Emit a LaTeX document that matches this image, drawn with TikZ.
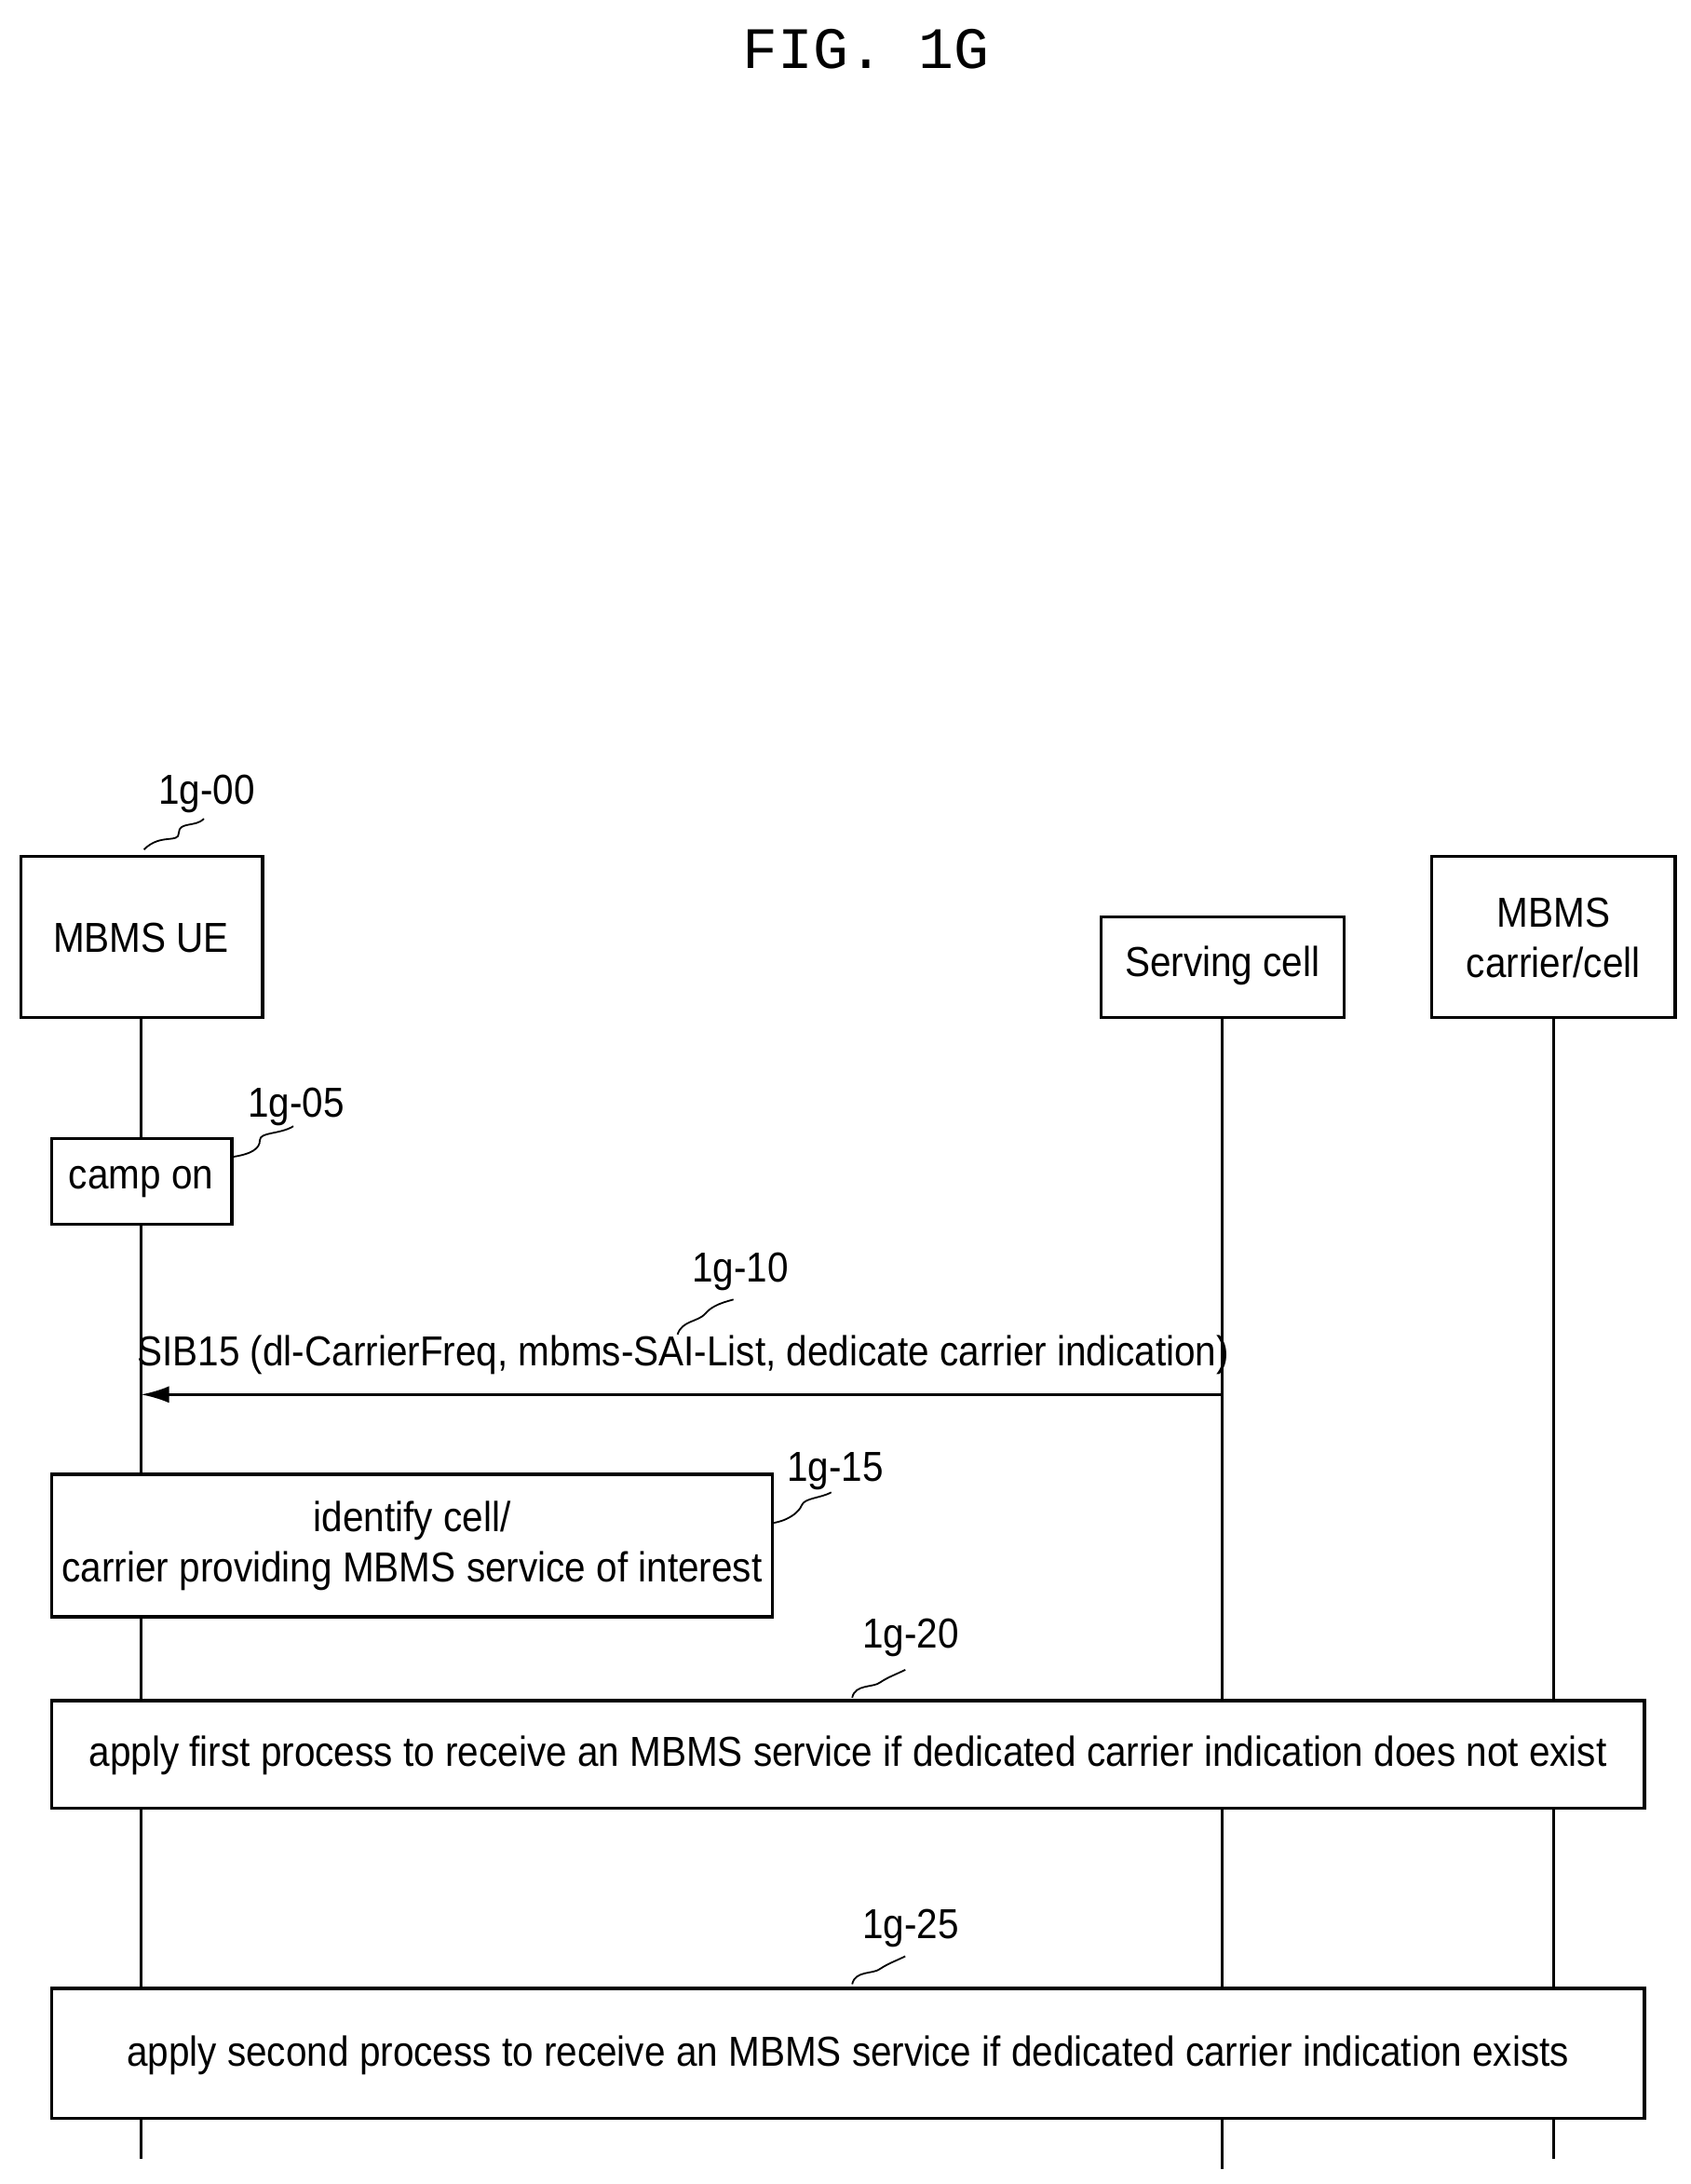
\documentclass[tikz,border=0pt]{standalone}
\usepackage{fontspec}
\usetikzlibrary{arrows.meta}
\setmainfont{Liberation Sans}[FakeStretch=0.9]
\newfontfamily\titlefont{Liberation Mono}
\begin{document}
\begin{tikzpicture}[x=1pt,y=-1pt,
  box/.style={draw,line width=2.2pt,inner sep=0pt},
  txt/.style={font=\fontsize{30}{36}\selectfont,align=center},
  life/.style={line width=1.8pt},
  sq/.style={line width=1.2pt}]
\useasboundingbox (0,0) rectangle (1210,1563);
\node[font=\titlefont\fontsize{42}{42}\selectfont] (title) at (620,35) {FIG. 1G};
% boxes
\draw[box] (15,613) rectangle (188,728);
\node[txt] (ue) at (101,671) {MBMS UE};
\draw[box] (788,656) rectangle (962,728);
\node[txt] (sc) at (875,691) {Serving cell};
\draw[box] (1025,613) rectangle (1199,728);
\node[txt] (mc) at (1112,671) {MBMS\\carrier/cell};
% lifelines
\draw[life] (101,728) -- (101,1545);
\draw[life] (875,728) -- (875,1552);
\draw[life] (1112,728) -- (1112,1545);
% labels
\node[txt] (l00) at (148,568) {1g-00};
\draw[sq] (103,608) .. controls (115,596) and (128,604) .. (128,596) .. controls (128,588) and (140,592) .. (146,586);
\draw[box,fill=white] (37,815) rectangle (166,876);
\node[txt] (camp) at (101,846) {camp on};
\node[txt] (l05) at (212,792) {1g-05};
\draw[sq] (166,828) .. controls (180,826) and (186,822) .. (186,816) .. controls (186,810) and (200,812) .. (210,806);
\coordinate (s1) at (875,998);
\coordinate (u1) at (101,998);
\draw[life,-{Latex[length=20pt,width=12pt]}] (s1) -- (u1);
\node[txt] (sib) at (489,970) {SIB15 (dl-CarrierFreq, mbms-SAI-List, dedicate carrier indication)};
\node[txt] (l10) at (530,910) {1g-10};
\draw[sq] (485,955) .. controls (488,945) and (500,946) .. (505,940) .. controls (510,934) and (518,932) .. (525,930);
\draw[box,fill=white] (37,1055) rectangle (553,1157);
\node[txt] (id) at (295,1106) {identify cell/\\carrier providing MBMS service of interest};
\node[txt] (l15) at (598,1053) {1g-15};
\draw[sq] (553,1090) .. controls (565,1088) and (572,1082) .. (574,1077) .. controls (576,1072) and (588,1072) .. (595,1068);
\draw[box,fill=white] (37,1217) rectangle (1177,1294);
\node[txt] (p1) at (607,1256) {apply first process to receive an MBMS service if dedicated carrier indication does not exist};
\node[txt] (l20) at (652,1172) {1g-20};
\draw[sq] (610,1215) .. controls (612,1205) and (625,1208) .. (630,1204) .. controls (636,1200) and (642,1198) .. (648,1195);
\draw[box,fill=white] (37,1423) rectangle (1177,1516);
\node[txt] (p2) at (607,1471) {apply second process to receive an MBMS service if dedicated carrier indication exists};
\node[txt] (l25) at (652,1380) {1g-25};
\draw[sq] (610,1420) .. controls (612,1410) and (625,1413) .. (630,1409) .. controls (636,1405) and (642,1403) .. (648,1400);
\end{tikzpicture}
\end{document}
